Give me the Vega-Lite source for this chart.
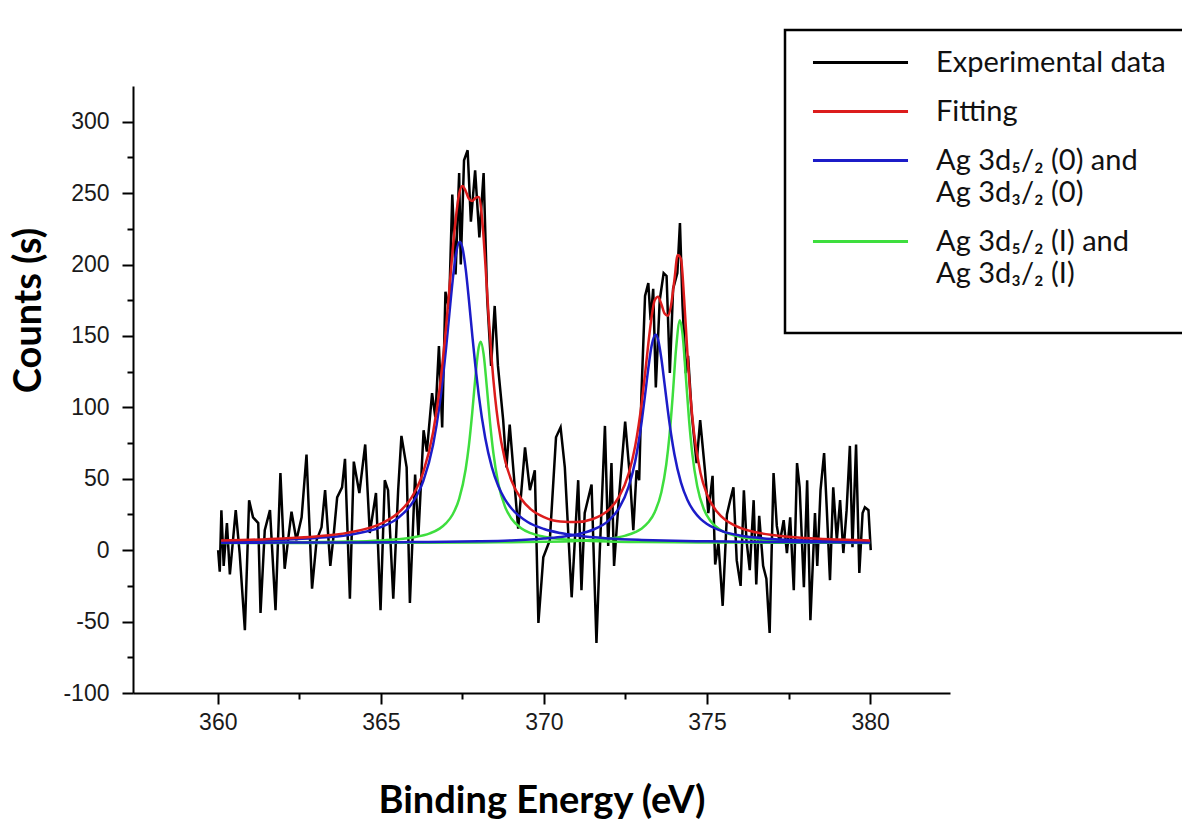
{
  "$schema": "https://vega.github.io/schema/vega-lite/v6.json",
  "width": 817,
  "height": 607,
  "autosize": {"type": "none"},
  "padding": {"left": 133, "top": 86, "right": 232, "bottom": 127},
  "background": "white",
  "config": {
    "view": {"stroke": null},
    "axis": {
      "grid": false,
      "domainColor": "black",
      "domainWidth": 2,
      "tickColor": "black",
      "tickWidth": 2,
      "labelFont": "Liberation Sans",
      "labelFontSize": 23,
      "labelColor": "#1a1a1a",
      "labelOverlap": false,
      "labelFlush": false,
      "titleFont": "Lato",
      "titleFontSize": 38,
      "titleFontWeight": "bold",
      "titleColor": "black"
    }
  },
  "datasets": {
    "exp": [
      {"E":360.01,"c":0},{"E":360.06,"c":-15},{"E":360.11,"c":28},{"E":360.18,"c":-11},{"E":360.28,"c":19},{"E":360.37,"c":-17},{"E":360.55,"c":28},{"E":360.67,"c":-2},{"E":360.83,"c":-56},{"E":360.96,"c":35},
      {"E":361.08,"c":23},{"E":361.24,"c":19},{"E":361.31,"c":-44},{"E":361.44,"c":14},{"E":361.6,"c":28},{"E":361.77,"c":-42},{"E":361.92,"c":54},{"E":362.05,"c":-13},{"E":362.26,"c":27},{"E":362.41,"c":7},
      {"E":362.57,"c":23},{"E":362.72,"c":67},{"E":362.89,"c":-27},{"E":363.03,"c":7},{"E":363.18,"c":16},{"E":363.29,"c":42},{"E":363.45,"c":-11},{"E":363.55,"c":10},{"E":363.66,"c":37},{"E":363.81,"c":44},
      {"E":363.9,"c":64},{"E":364.05,"c":-34},{"E":364.17,"c":62},{"E":364.34,"c":40},{"E":364.52,"c":74},{"E":364.66,"c":12},{"E":364.85,"c":40},{"E":364.99,"c":-42},{"E":365.12,"c":49},{"E":365.22,"c":42},
      {"E":365.38,"c":-34},{"E":365.53,"c":42},{"E":365.63,"c":80},{"E":365.79,"c":58},{"E":365.89,"c":-37},{"E":366.05,"c":53},{"E":366.15,"c":10},{"E":366.31,"c":84},{"E":366.41,"c":69},{"E":366.57,"c":110},
      {"E":366.67,"c":93},{"E":366.78,"c":143},{"E":366.88,"c":86},{"E":366.98,"c":181},{"E":367.09,"c":169},{"E":367.19,"c":249},{"E":367.29,"c":193},{"E":367.4,"c":264},{"E":367.45,"c":200},{"E":367.55,"c":273},
      {"E":367.66,"c":280},{"E":367.76,"c":230},{"E":367.89,"c":266},{"E":368.02,"c":219},{"E":368.15,"c":264},{"E":368.26,"c":176},{"E":368.38,"c":129},{"E":368.49,"c":171},{"E":368.59,"c":129},{"E":368.75,"c":91},
      {"E":368.85,"c":58},{"E":368.95,"c":88},{"E":369.11,"c":43},{"E":369.21,"c":15},{"E":369.42,"c":72},{"E":369.57,"c":42},{"E":369.72,"c":56},{"E":369.83,"c":-51},{"E":369.98,"c":-5},{"E":370.18,"c":7},
      {"E":370.37,"c":79},{"E":370.51,"c":86},{"E":370.64,"c":58},{"E":370.85,"c":-33},{"E":371.05,"c":49},{"E":371.15,"c":-28},{"E":371.25,"c":26},{"E":371.46,"c":46},{"E":371.61,"c":-65},{"E":371.71,"c":-2},
      {"E":371.87,"c":87},{"E":371.97,"c":3},{"E":372.07,"c":61},{"E":372.15,"c":-11},{"E":372.28,"c":31},{"E":372.49,"c":90},{"E":372.64,"c":50},{"E":372.74,"c":14},{"E":372.84,"c":56},{"E":372.92,"c":49},
      {"E":372.99,"c":110},{"E":373.1,"c":178},{"E":373.2,"c":187},{"E":373.27,"c":161},{"E":373.35,"c":183},{"E":373.43,"c":114},{"E":373.55,"c":175},{"E":373.67,"c":194},{"E":373.76,"c":192},{"E":373.86,"c":124},
      {"E":373.96,"c":183},{"E":374.09,"c":194},{"E":374.17,"c":229},{"E":374.25,"c":171},{"E":374.35,"c":124},{"E":374.42,"c":136},{"E":374.53,"c":96},{"E":374.68,"c":61},{"E":374.79,"c":91},{"E":374.94,"c":55},
      {"E":375.04,"c":26},{"E":375.17,"c":52},{"E":375.25,"c":-10},{"E":375.35,"c":5},{"E":375.48,"c":-39},{"E":375.61,"c":25},{"E":375.71,"c":35},{"E":375.81,"c":44},{"E":375.91,"c":-7},{"E":376.03,"c":-25},
      {"E":376.13,"c":42},{"E":376.21,"c":7},{"E":376.31,"c":-14},{"E":376.43,"c":35},{"E":376.51,"c":-24},{"E":376.6,"c":24},{"E":376.72,"c":-11},{"E":376.82,"c":-20},{"E":376.92,"c":-58},{"E":377.04,"c":54},
      {"E":377.14,"c":17},{"E":377.23,"c":5},{"E":377.35,"c":21},{"E":377.45,"c":-2},{"E":377.55,"c":23},{"E":377.66,"c":-28},{"E":377.76,"c":61},{"E":377.84,"c":44},{"E":377.97,"c":-26},{"E":378.07,"c":49},
      {"E":378.17,"c":-49},{"E":378.31,"c":26},{"E":378.38,"c":-11},{"E":378.48,"c":42},{"E":378.59,"c":68},{"E":378.67,"c":30},{"E":378.77,"c":-21},{"E":378.87,"c":44},{"E":378.98,"c":7},{"E":379.08,"c":35},
      {"E":379.18,"c":-2},{"E":379.28,"c":28},{"E":379.38,"c":73},{"E":379.46,"c":2},{"E":379.57,"c":74},{"E":379.67,"c":-16},{"E":379.77,"c":26},{"E":379.84,"c":30},{"E":379.95,"c":28},{"E":380.02,"c":0}
    ],
    "comp": [
      {"E":360.1,"c":6.3,"k":"B1"},{"E":361,"c":6.6,"k":"B1"},{"E":362,"c":7.3,"k":"B1"},{"E":363,"c":8.5,"k":"B1"},{"E":364,"c":10.7,"k":"B1"},{"E":365,"c":16.1,"k":"B1"},{"E":365.5,"c":22.1,"k":"B1"},{"E":366,"c":34.3,"k":"B1"},{"E":366.3,"c":48.4,"k":"B1"},{"E":366.6,"c":73.7,"k":"B1"},
      {"E":366.8,"c":101.7,"k":"B1"},{"E":367,"c":141.7,"k":"B1"},{"E":367.1,"c":165.4,"k":"B1"},{"E":367.2,"c":188.6,"k":"B1"},{"E":367.3,"c":207,"k":"B1"},{"E":367.42,"c":216,"k":"B1"},{"E":367.5,"c":211.9,"k":"B1"},{"E":367.6,"c":196.9,"k":"B1"},{"E":367.7,"c":175,"k":"B1"},{"E":367.8,"c":151.1,"k":"B1"},
      {"E":367.9,"c":128.5,"k":"B1"},{"E":368,"c":108.7,"k":"B1"},{"E":368.2,"c":78.5,"k":"B1"},{"E":368.4,"c":58.3,"k":"B1"},{"E":368.6,"c":44.9,"k":"B1"},{"E":368.8,"c":35.7,"k":"B1"},{"E":369,"c":29.3,"k":"B1"},{"E":369.5,"c":19.7,"k":"B1"},{"E":370,"c":14.8,"k":"B1"},{"E":370.5,"c":12,"k":"B1"},
      {"E":371,"c":10.2,"k":"B1"},{"E":372,"c":8.2,"k":"B1"},{"E":373,"c":7.2,"k":"B1"},{"E":374,"c":6.6,"k":"B1"},{"E":375,"c":6.2,"k":"B1"},{"E":376,"c":5.9,"k":"B1"},{"E":377,"c":5.7,"k":"B1"},{"E":378,"c":5.6,"k":"B1"},{"E":379,"c":5.5,"k":"B1"},{"E":380,"c":5.4,"k":"B1"},
      {"E":360.1,"c":5.2,"k":"B2"},{"E":362,"c":5.3,"k":"B2"},{"E":364,"c":5.4,"k":"B2"},{"E":366,"c":5.7,"k":"B2"},{"E":367,"c":5.9,"k":"B2"},{"E":368,"c":6.2,"k":"B2"},{"E":369,"c":6.8,"k":"B2"},{"E":370,"c":8.1,"k":"B2"},{"E":370.5,"c":9.2,"k":"B2"},{"E":371,"c":11,"k":"B2"},
      {"E":371.5,"c":14.3,"k":"B2"},{"E":372,"c":21.1,"k":"B2"},{"E":372.3,"c":29.3,"k":"B2"},{"E":372.6,"c":44.6,"k":"B2"},{"E":372.8,"c":62.5,"k":"B2"},{"E":373,"c":90.6,"k":"B2"},{"E":373.1,"c":108.6,"k":"B2"},{"E":373.2,"c":127.3,"k":"B2"},{"E":373.3,"c":143,"k":"B2"},{"E":373.42,"c":151,"k":"B2"},
      {"E":373.5,"c":147.4,"k":"B2"},{"E":373.6,"c":134.2,"k":"B2"},{"E":373.7,"c":116.1,"k":"B2"},{"E":373.8,"c":97.5,"k":"B2"},{"E":373.9,"c":81,"k":"B2"},{"E":374,"c":67.2,"k":"B2"},{"E":374.2,"c":47.5,"k":"B2"},{"E":374.4,"c":35.2,"k":"B2"},{"E":374.6,"c":27.2,"k":"B2"},{"E":374.8,"c":21.9,"k":"B2"},
      {"E":375,"c":18.3,"k":"B2"},{"E":375.5,"c":13,"k":"B2"},{"E":376,"c":10.3,"k":"B2"},{"E":376.5,"c":8.8,"k":"B2"},{"E":377,"c":7.8,"k":"B2"},{"E":378,"c":6.7,"k":"B2"},{"E":379,"c":6.2,"k":"B2"},{"E":380,"c":5.8,"k":"B2"},
      {"E":360.1,"c":5.3,"k":"G1"},{"E":362,"c":5.5,"k":"G1"},{"E":364,"c":6,"k":"G1"},{"E":365,"c":6.8,"k":"G1"},{"E":365.5,"c":7.6,"k":"G1"},{"E":366,"c":9,"k":"G1"},{"E":366.5,"c":11.8,"k":"G1"},{"E":366.8,"c":15.1,"k":"G1"},{"E":367,"c":18.9,"k":"G1"},{"E":367.2,"c":25,"k":"G1"},
      {"E":367.4,"c":35.9,"k":"G1"},{"E":367.6,"c":56.7,"k":"G1"},{"E":367.7,"c":73.5,"k":"G1"},{"E":367.8,"c":95.9,"k":"G1"},{"E":367.9,"c":121.6,"k":"G1"},{"E":368,"c":142,"k":"G1"},{"E":368.06,"c":146,"k":"G1"},{"E":368.15,"c":137.3,"k":"G1"},{"E":368.25,"c":113.9,"k":"G1"},{"E":368.35,"c":88.6,"k":"G1"},
      {"E":368.45,"c":67.9,"k":"G1"},{"E":368.6,"c":46.7,"k":"G1"},{"E":368.8,"c":30.8,"k":"G1"},{"E":369,"c":22.2,"k":"G1"},{"E":369.3,"c":15.4,"k":"G1"},{"E":369.6,"c":11.9,"k":"G1"},{"E":370,"c":9.4,"k":"G1"},{"E":370.5,"c":7.8,"k":"G1"},{"E":371,"c":7,"k":"G1"},{"E":372,"c":6.1,"k":"G1"},
      {"E":373,"c":5.7,"k":"G1"},{"E":374,"c":5.5,"k":"G1"},{"E":376,"c":5.3,"k":"G1"},{"E":378,"c":5.2,"k":"G1"},{"E":380,"c":5.1,"k":"G1"},
      {"E":360.1,"c":5.1,"k":"G2"},{"E":363,"c":5.1,"k":"G2"},{"E":366,"c":5.2,"k":"G2"},{"E":368,"c":5.4,"k":"G2"},{"E":369,"c":5.6,"k":"G2"},{"E":370,"c":5.9,"k":"G2"},{"E":371,"c":6.5,"k":"G2"},{"E":371.5,"c":7.1,"k":"G2"},{"E":372,"c":8.1,"k":"G2"},{"E":372.5,"c":10.2,"k":"G2"},
      {"E":372.8,"c":12.6,"k":"G2"},{"E":373,"c":15.2,"k":"G2"},{"E":373.2,"c":19.5,"k":"G2"},{"E":373.4,"c":26.8,"k":"G2"},{"E":373.6,"c":40.6,"k":"G2"},{"E":373.75,"c":60,"k":"G2"},{"E":373.85,"c":80.5,"k":"G2"},{"E":373.95,"c":108.7,"k":"G2"},{"E":374.05,"c":140.7,"k":"G2"},{"E":374.17,"c":161,"k":"G2"},
      {"E":374.25,"c":151.3,"k":"G2"},{"E":374.35,"c":121.7,"k":"G2"},{"E":374.45,"c":90.9,"k":"G2"},{"E":374.55,"c":67.3,"k":"G2"},{"E":374.7,"c":44.8,"k":"G2"},{"E":374.9,"c":28.8,"k":"G2"},{"E":375.1,"c":20.6,"k":"G2"},{"E":375.4,"c":14.3,"k":"G2"},{"E":375.7,"c":11.2,"k":"G2"},{"E":376,"c":9.4,"k":"G2"},
      {"E":376.5,"c":7.7,"k":"G2"},{"E":377,"c":6.9,"k":"G2"},{"E":378,"c":6,"k":"G2"},{"E":379,"c":5.6,"k":"G2"},{"E":380,"c":5.4,"k":"G2"}
    ],
    "fit": [
      {"E":360.1,"c":6.8},{"E":361,"c":7.3},{"E":362,"c":8.2},{"E":363,"c":9.6},{"E":364,"c":12.3},{"E":365,"c":18.6},{"E":365.5,"c":25.5},{"E":366,"c":39.1},{"E":366.3,"c":54.7},{"E":366.6,"c":82.4},
      {"E":366.8,"c":112.9},{"E":367,"c":156.7},{"E":367.1,"c":183.1},{"E":367.2,"c":209.8},{"E":367.3,"c":232.9},{"E":367.4,"c":249.5},{"E":367.5,"c":255},{"E":367.6,"c":251.5},{"E":367.7,"c":246},{"E":367.8,"c":244.5},
      {"E":367.9,"c":246.6},{"E":368,"c":247.3},{"E":368.1,"c":233},{"E":368.2,"c":201.8},{"E":368.3,"c":165.1},{"E":368.4,"c":132.7},{"E":368.5,"c":107.5},{"E":368.6,"c":88.6},{"E":368.8,"c":63.7},{"E":369,"c":48.9},
      {"E":369.3,"c":36},{"E":369.6,"c":28.6},{"E":370,"c":23.2},{"E":370.5,"c":20.1},{"E":371,"c":19.7},{"E":371.5,"c":21.8},{"E":372,"c":28.5},{"E":372.3,"c":37.3},{"E":372.6,"c":53.8},{"E":372.8,"c":73.2},
      {"E":373,"c":103.7},{"E":373.1,"c":123.5},{"E":373.2,"c":144.5},{"E":373.3,"c":163.2},{"E":373.4,"c":175.2},{"E":373.5,"c":177.4},{"E":373.6,"c":172.2},{"E":373.7,"c":165.7},{"E":373.8,"c":164.1},{"E":373.9,"c":171.9},
      {"E":374,"c":189.2},{"E":374.1,"c":206.6},{"E":374.2,"c":204.1},{"E":374.3,"c":175.2},{"E":374.4,"c":137.7},{"E":374.5,"c":105.7},{"E":374.6,"c":82.4},{"E":374.8,"c":54},{"E":375,"c":39},{"E":375.3,"c":27},
      {"E":375.6,"c":20.6},{"E":376,"c":15.8},{"E":376.5,"c":12.5},{"E":377,"c":10.6},{"E":378,"c":8.5},{"E":379,"c":7.5},{"E":380,"c":6.8}
    ]
  },
  "encoding": {
    "x": {
      "field": "E",
      "type": "quantitative",
      "scale": {"domain": [357.4, 382.45], "nice": false, "zero": false},
      "axis": {
        "title": "Binding Energy (eV)",
        "values": [360, 362.5, 365, 367.5, 370, 372.5, 375, 377.5, 380],
        "labelExpr": "datum.value % 5 === 0 ? '' + datum.value : ''",
        "labelFontSize": 23,
        "tickSize": {"condition": {"test": "datum.value % 5 === 0", "value": 11}, "value": 6},
        "labelPadding": 7,
        "titlePadding": 48
      }
    },
    "y": {
      "field": "c",
      "type": "quantitative",
      "scale": {"domain": [-100, 325], "nice": false},
      "axis": {
        "title": "Counts (s)",
        "values": [-100, -75, -50, -25, 0, 25, 50, 75, 100, 125, 150, 175, 200, 225, 250, 275, 300],
        "labelExpr": "datum.value % 50 === 0 ? '' + datum.value : ''",
        "labelFontSize": 23,
        "tickSize": {"condition": {"test": "datum.value % 50 === 0", "value": 11}, "value": 6},
        "labelPadding": 13,
        "titlePadding": 14,
        "titleY": 224
      }
    }
  },
  "layer": [
    {
      "data": {"name": "exp"},
      "mark": {"type": "line", "strokeWidth": 2.5},
      "encoding": {
        "color": {
          "datum": "exp",
          "type": "nominal",
          "scale": {"domain": ["exp", "fit", "ag0", "ag1"], "range": ["#000000", "#dc1c1c", "#1c1cc8", "#3ede3e"]},
          "legend": {
            "orient": "none",
            "legendX": 652,
            "legendY": -56,
            "title": " ",
            "titleOrient": "bottom",
            "titleFontSize": 18,
            "titlePadding": 8,
            "symbolType": "M-3.96,0H3.96",
            "symbolSize": 576,
            "symbolStrokeWidth": 3,
            "symbolOffset": 43,
            "labelFont": "Lato",
            "labelFontSize": 29,
            "labelColor": "#111111",
            "labelLimit": 0,
            "labelOffset": 61,
            "padding": 18,
            "rowPadding": 19,
            "strokeColor": "black",
            "fillColor": "white",
            "labelExpr": "datum.value === 'exp' ? 'Experimental data' : datum.value === 'fit' ? 'Fitting' : datum.value === 'ag0' ? ['Ag 3d₅/₂ (0) and', ' Ag 3d₃/₂ (0)'] : ['Ag 3d₅/₂ (I) and', ' Ag 3d₃/₂ (I)']",
            "encode": {
              "legend": {"update": {"strokeWidth": {"value": 2.5}}},
              "labels": {"update": {"lineHeight": {"value": 32}}}
            }
          }
        }
      }
    },
    {
      "data": {"name": "comp"},
      "transform": [{"filter": "datum.k === 'G1' || datum.k === 'G2'"}],
      "mark": {"type": "line", "strokeWidth": 2.5, "interpolate": "monotone"},
      "encoding": {"color": {"datum": "ag1", "type": "nominal"}, "detail": {"field": "k"}}
    },
    {
      "data": {"name": "comp"},
      "transform": [{"filter": "datum.k === 'B1' || datum.k === 'B2'"}],
      "mark": {"type": "line", "strokeWidth": 2.5, "interpolate": "monotone"},
      "encoding": {"color": {"datum": "ag0", "type": "nominal"}, "detail": {"field": "k"}}
    },
    {
      "data": {"name": "fit"},
      "mark": {"type": "line", "strokeWidth": 2.5, "interpolate": "monotone"},
      "encoding": {"color": {"datum": "fit", "type": "nominal"}}
    }
  ]
}
